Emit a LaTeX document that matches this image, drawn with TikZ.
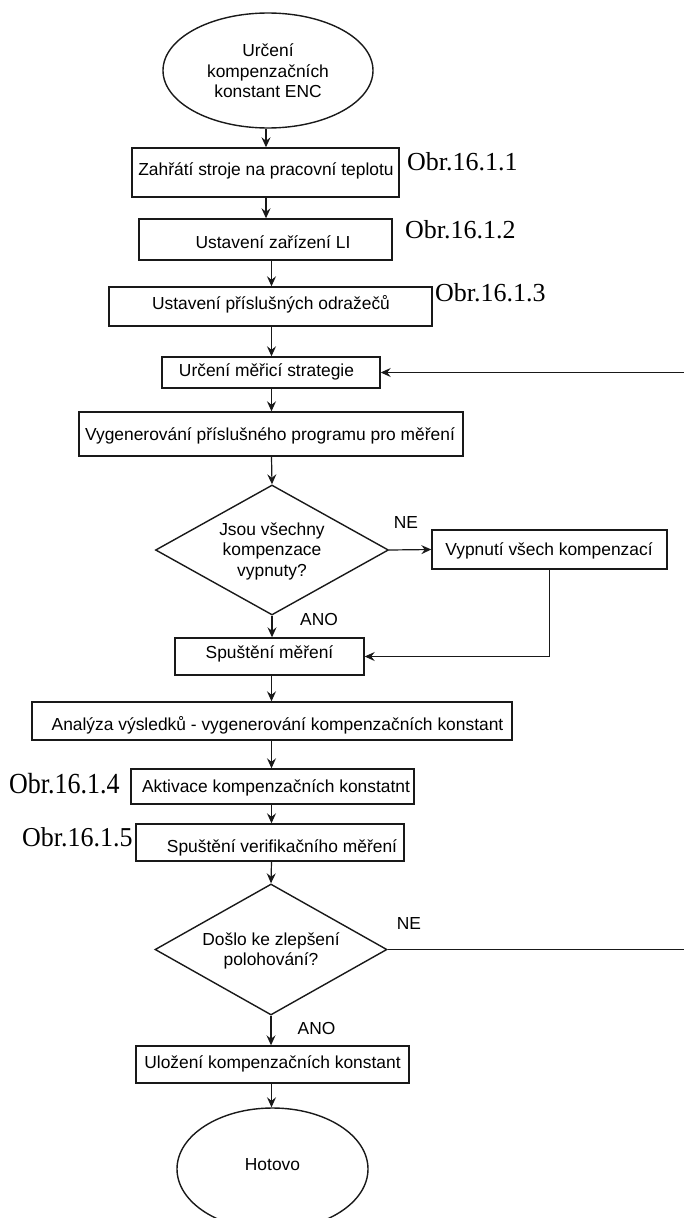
\documentclass[tikz,border=0pt]{standalone}
\usepackage{fontspec}
\setmainfont{Liberation Sans}
\newfontfamily\obrfont{Liberation Serif}
\usetikzlibrary{shapes.geometric,arrows.meta,calc}
\begin{document}
\begin{tikzpicture}[x=1pt,y=-1pt,
  shp/.style={draw=black!90, line width=1.4pt, inner sep=0pt, fill=white},
  box/.style={shp, rectangle},
  txt/.style={inner sep=0pt, font=\fontsize{17.4}{20.5}\selectfont, text height=0.74em, text depth=0em},
  txtm/.style={inner sep=0pt, font=\fontsize{17.4}{20.5}\selectfont, align=center},
  obr/.style={inner sep=0pt, font=\obrfont\fontsize{26}{30}\selectfont, anchor=base west},
  arr/.style={draw=black!90, line width=1.2pt, -{Stealth[length=10pt,width=9pt,inset=3.5pt]}},
  ln/.style={draw=black!90, line width=1.2pt}]
\useasboundingbox (0,0) rectangle (684,1218);

% shapes
\node[shp, ellipse, minimum width=210pt, minimum height=115pt] (e1) at (268,70.5) {};
\node[box, minimum width=267pt, minimum height=49pt] (b1) at (265.5,172.5) {};
\node[box, minimum width=253pt, minimum height=41pt] (b2) at (265.5,239.5) {};
\node[box, minimum width=323pt, minimum height=39pt] (b3) at (270.5,306.5) {};
\node[box, minimum width=218pt, minimum height=31pt] (b4) at (271,372.5) {};
\node[box, minimum width=384pt, minimum height=44pt] (b5) at (271,434) {};
\node[shp, diamond, minimum width=233pt, minimum height=130pt] (d1) at (272,550) {};
\node[box, minimum width=235pt, minimum height=39pt] (b6) at (549.5,549.5) {};
\node[box, minimum width=189pt, minimum height=37pt] (b7) at (269.5,656.5) {};
\node[box, minimum width=480pt, minimum height=38pt] (b8) at (272,721) {};
\node[box, minimum width=283pt, minimum height=35pt] (b9) at (272.5,786.5) {};
\node[box, minimum width=268pt, minimum height=37pt] (b10) at (270,842.5) {};
\node[shp, diamond, minimum width=232pt, minimum height=131pt] (d2) at (271,949.5) {};
\node[box, minimum width=273pt, minimum height=37pt] (b11) at (272.5,1064.5) {};
\node[shp, ellipse, minimum width=191pt, minimum height=122pt] (e2) at (272.5,1169) {};

% texts
\node[txtm] (t0) at (268,71) {Určení\\kompenzačních\\konstant ENC};
\node[txt] (t1) at (266,172) {Zahřátí stroje na pracovní teplotu};
\node[txt] (t2) at (273,245) {Ustavení zařízení LI};
\node[txt] (t3) at (271,306) {Ustavení příslušných odražečů};
\node[txt] (t4) at (266.5,373) {Určení měřicí strategie};
\node[txt] (t5) at (270,437) {Vygenerování příslušného programu pro měření};
\node[txtm] (t6) at (272,551) {Jsou všechny\\kompenzace\\vypnuty?};
\node[txt] (t7) at (549,552) {Vypnutí všech kompenzací};
\node[txt] (t8) at (269.5,655) {Spuštění měření};
\node[txt] (t9) at (277.5,727) {Analýza výsledků - vygenerování kompenzačních konstant};
\node[txt] (t10) at (276,788.5) {Aktivace kompenzačních konstatnt};
\node[txt] (t11) at (282,849) {Spuštění verifikačního měření};
\node[txtm] (t12) at (271,951) {Došlo ke zlepšení\\polohování?};
\node[txt] (t13) at (272.5,1065) {Uložení kompenzačních konstant};
\node[txt] (t14) at (272.5,1167) {Hotovo};

% branch labels
\node[txt] (ne1) at (406,525) {NE};
\node[txt] (ano1) at (319,622) {ANO};
\node[txt] (ne2) at (409,926) {NE};
\node[txt] (ano2) at (316.5,1031) {ANO};

% figure references
\node[obr] (o1) at (407,170.7) {Obr.16.1.1};
\node[obr] (o2) at (405,238) {Obr.16.1.2};
\node[obr] (o3) at (435,301) {Obr.16.1.3};
\node[obr, yscale=1.12] (o4) at (9,793) {Obr.16.1.4};
\node[obr, yscale=1.05] (o5) at (22,846.7) {Obr.16.1.5};

% connectors
\coordinate (ca) at (266,0);
\coordinate (cb) at (271.5,0);
\coordinate (fr) at (687,0);
\draw[arr] (ca |- e1.south) -- (ca |- b1.north);
\draw[arr] (ca |- b1.south) -- (ca |- b2.north);
\draw[arr] (cb |- b2.south) -- (cb |- b3.north);
\draw[arr] (cb |- b3.south) -- (cb |- b4.north);
\draw[arr] (cb |- b4.south) -- (cb |- b5.north);
\draw[arr] (cb |- b5.south) -- (d1.north);
\draw[arr] (d1.east) -- (b6.west);
\draw[arr] (b6.south) |- (b7.east);
\draw[arr] (d1.south) -- (d1.south |- b7.north);
\draw[arr] (cb |- b7.south) -- (cb |- b8.north);
\draw[arr] (cb |- b8.south) -- (cb |- b9.north);
\draw[arr] (cb |- b9.south) -- (cb |- b10.north);
\draw[arr] (cb |- b10.south) -- (d2.north);
\draw[arr] (d2.south) -- (d2.south |- b11.north);
\draw[arr] (cb |- b11.south) -- (cb |- e2.north);
\draw[arr] (d2.east) -- (d2.east -| fr) -- (fr |- b4.east) -- (b4.east);
\end{tikzpicture}
\end{document}
